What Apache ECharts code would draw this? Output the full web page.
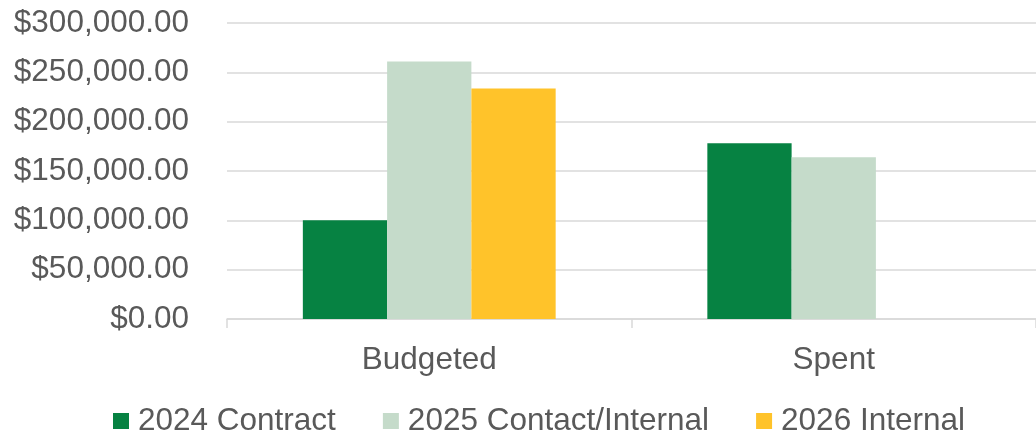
<!DOCTYPE html>
<html>
<head>
<meta charset="utf-8">
<script src="https://cdn.jsdelivr.net/npm/echarts@6/dist/echarts.min.js"></script>
<style>
html,body{margin:0;padding:0;background:#fff;}
#chart{width:1036px;height:431px;}
</style>
</head>
<body>
<div id="chart"></div>
<script>
var categories = ['Budgeted', 'Spent'];
var seriesNames = ['2024 Contract', '2025 Contact/Internal', '2026 Internal'];
var values2024 = [100000, 178000];
var values2025 = [261000, 164000];
var values2026 = [233500, null];
var yTicks = [0, 50000, 100000, 150000, 200000, 250000, 300000];
var colors = ['#068242', '#C5DBCA', '#FFC32A'];

function money(v) {
  var s = Math.abs(v).toFixed(2);
  var parts = s.split('.');
  parts[0] = parts[0].replace(/\B(?=(\d{3})+(?!\d))/g, ',');
  return (v < 0 ? '-' : '') + '$' + parts[0] + '.' + parts[1];
}

var font = '"Liberation Sans", Arial, sans-serif';
var txt = '#595959';
var chart = echarts.init(document.getElementById('chart'));
var data = [values2024, values2025, values2026];
chart.setOption({
  animation: false,
  textStyle: { fontFamily: font },
  grid: { left: 227, right: -4, top: 23, bottom: 112, containLabel: false },
  legend: {
    data: seriesNames,
    left: 108,
    top: 400,
    itemWidth: 16,
    itemHeight: 16,
    itemGap: 47,
    icon: 'rect',
    textStyle: { color: txt, fontSize: 31.5, fontFamily: font, lineHeight: 32, padding: [0, 0, 0, 4] }
  },
  xAxis: {
    type: 'category',
    data: categories,
    axisLine: { lineStyle: { color: '#d9d9d9', width: 1.5 } },
    axisTick: { show: true, length: 9, lineStyle: { color: '#d9d9d9', width: 1.5 } },
    axisLabel: { color: txt, fontSize: 31.5, fontFamily: font, margin: 25 }
  },
  yAxis: {
    type: 'value',
    min: yTicks[0],
    max: yTicks[yTicks.length - 1],
    interval: yTicks[1] - yTicks[0],
    axisLine: { show: false },
    axisTick: { show: false },
    splitLine: { lineStyle: { color: '#d9d9d9', width: 1.5 } },
    axisLabel: { color: txt, fontSize: 31.5, fontFamily: font, margin: 38, formatter: money }
  },
  series: seriesNames.map(function (n, i) {
    return {
      name: n,
      type: 'bar',
      data: data[i],
      barGap: '0%',
      barCategoryGap: '37.5%',
      itemStyle: { color: colors[i] }
    };
  })
});
</script>
</body>
</html>
